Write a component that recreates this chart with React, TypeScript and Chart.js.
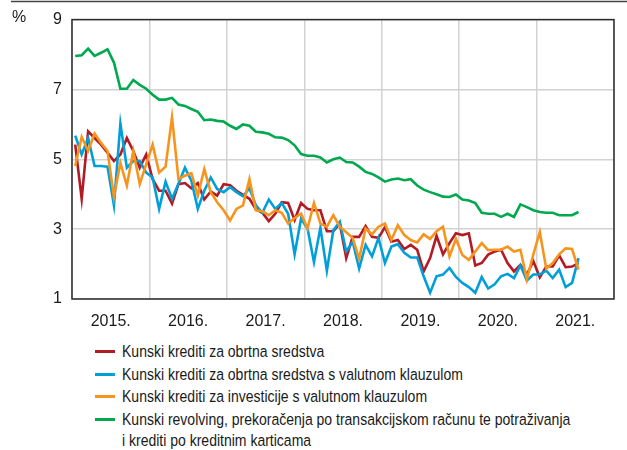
import React, { useEffect, useRef } from "react";
import { Chart, registerables } from "chart.js";

Chart.register(...registerables);

const yearLabels = ["2015.", "2016.", "2017.", "2018.", "2019.", "2020.", "2021."];
const yTicks = [1, 3, 5, 7, 9];

const seriesNames = [
  "Kunski krediti za obrtna sredstva",
  "Kunski krediti za obrtna sredstva s valutnom klauzulom",
  "Kunski krediti za investicije s valutnom klauzulom",
  "Kunski revolving, prekoračenja po transakcijskom računu te potraživanja\ni krediti po kreditnim karticama",
];
const seriesColors = ["#B31B24", "#009FDA", "#F7941E", "#00A94F"];

// Monthly values, Jan 2015 – Jul 2021
const redValues = [
  5.42, 3.87, 5.8, 5.61, 5.42, 5.19, 4.95, 5.14, 5.61, 5.24, 4.76, 5.14,
  4.43, 4.1, 4.1, 3.73, 4.29, 4.32, 4.17, 4.32, 3.85, 4.08, 3.96, 4.29,
  4.26, 4.1, 3.98, 3.87, 3.57, 3.47, 3.23, 3.44, 3.77, 3.75, 3.26, 3.75,
  3.58, 3.54, 3.54, 2.94, 2.94, 3.16, 2.17, 2.78, 2.78, 3.09, 2.78, 2.75,
  3.06, 2.64, 2.69, 2.43, 2.55, 2.41, 1.79, 2.17, 2.81, 2.28, 2.6, 2.88,
  2.83, 2.88, 1.96, 2.03, 2.27, 2.36, 2.41, 2.03, 1.79, 1.98, 1.7, 2.08,
  1.62, 1.93, 1.93, 2.25, 1.91, 1.93, 2.03,
];
const blueValues = [
  5.68, 5.14, 5.61, 4.81, 4.81, 4.79, 3.68, 6.02, 4.76, 4.95, 4.95, 4.62,
  4.48, 3.58, 4.36, 3.87, 4.3, 4.76, 4.39, 3.58, 4.1, 4.48, 4.15, 4.06,
  4.2, 4.06, 3.94, 4.17, 3.68, 3.47, 3.85, 3.58, 3.75, 3.44, 2.28, 3.3,
  3.02, 2.06, 3.04, 1.81, 2.97, 3.21, 2.36, 2.64, 1.87, 2.55, 2.22, 2.75,
  2.03, 2.5, 2.57, 2.32, 2.19, 2.19, 1.65, 1.18, 1.65, 1.7, 1.89, 1.63,
  1.46, 1.34, 1.18, 1.63, 1.3, 1.42, 1.65, 1.72, 1.6, 1.96, 1.53, 1.7,
  1.7, 1.81, 1.6, 1.84, 1.34, 1.46, 2.17,
];
const orangeValues = [
  4.81, 5.64, 5.24, 5.74, 5.47, 5.24, 3.92, 4.9, 4.25, 5.24, 4.29, 4.86,
  5.42, 4.62, 4.79, 6.2, 4.43, 4.53, 4.6, 3.96, 4.72, 4.06, 3.77, 3.54,
  3.25, 3.58, 3.68, 4.43, 3.54, 3.51, 3.4, 3.54, 3.47, 3.16, 3.32, 3.44,
  3.02, 3.75, 3.16, 3.07, 3.4, 3.07, 2.91, 2.75, 2.15, 3.02, 2.85, 3.07,
  3.16, 2.69, 3.11, 2.83, 2.69, 2.62, 2.85, 2.72, 2.94, 3.07, 2.22, 2.72,
  2.26, 2.12, 2.36, 2.6, 2.4, 2.41, 2.41, 2.5, 2.36, 2.41, 1.56, 2.28,
  2.92, 1.87, 2.03, 2.28, 2.45, 2.43, 1.84,
];
const greenValues = [
  7.96, 7.98, 8.17, 7.96, 8.05, 8.15, 7.77, 7.02, 7.02, 7.27, 7.13, 7.02,
  6.85, 6.71, 6.71, 6.76, 6.57, 6.53, 6.44, 6.36, 6.12, 6.14, 6.1, 6.08,
  5.96, 5.87, 6.0, 5.96, 5.79, 5.77, 5.73, 5.63, 5.62, 5.55, 5.4, 5.15,
  5.1, 5.1, 5.05, 4.91, 5.0, 5.05, 4.92, 4.91, 4.79, 4.64, 4.58, 4.48,
  4.36, 4.42, 4.45, 4.4, 4.43, 4.25, 4.13, 4.06, 4.0, 3.93, 3.92, 3.99,
  3.85, 3.82, 3.75, 3.47, 3.44, 3.44, 3.35, 3.44, 3.35, 3.71, 3.63, 3.54,
  3.49, 3.47, 3.47, 3.4, 3.4, 3.4, 3.49,
];

const allValues = [redValues, blueValues, orangeValues, greenValues];

const FONT = "'Liberation Sans', Arial, sans-serif";
const TEXT = "#1a1a1a";

const framePlugin = {
  id: "frame",
  afterDraw(chart: any) {
    const { ctx, chartArea } = chart;
    ctx.save();
    ctx.strokeStyle = "#2b2b2b";
    ctx.lineWidth = 1.5;
    ctx.strokeRect(chartArea.left, chartArea.top, chartArea.right - chartArea.left, chartArea.bottom - chartArea.top);
    ctx.strokeStyle = "#444";
    ctx.lineWidth = 1.5;
    ctx.beginPath();
    ctx.moveTo(11, 1.5);
    ctx.lineTo(627, 1.5);
    ctx.stroke();
    ctx.fillStyle = TEXT;
    ctx.font = `16px ${FONT}`;
    ctx.textBaseline = "middle";
    ctx.textAlign = "left";
    ctx.fillText("%", 12, 18);
    ctx.restore();
  },
};

export default function App() {
  const ref = useRef<HTMLCanvasElement | null>(null);

  useEffect(() => {
    if (!ref.current) return;
    const datasets = allValues.map((vals, k) => ({
      label: seriesNames[k],
      data: vals.map((v, i) => ({ x: i + 0.5, y: v })),
      borderColor: seriesColors[k],
      backgroundColor: seriesColors[k],
      borderWidth: 2.6,
      pointRadius: 0,
      tension: 0,
      fill: false,
      order: k === 3 ? 0 : 3 - k,
    }));
    const chart = new Chart(ref.current, {
      type: "line",
      data: { datasets },
      plugins: [framePlugin],
      options: {
        animation: false,
        responsive: false,
        maintainAspectRatio: false,
        layout: { padding: { top: 16, right: 3, left: 0, bottom: 0 } },
        plugins: { legend: { display: false }, tooltip: { enabled: false } },
        scales: {
          x: {
            type: "linear",
            min: 0,
            max: yearLabels.length * 12,
            afterBuildTicks: (scale: any) => {
              const t: any[] = [];
              for (let v = 0; v <= yearLabels.length * 12; v += 6) t.push({ value: v });
              scale.ticks = t;
            },
            afterFit: (scale: any) => {
              scale.height = 31;
            },
            grid: {
              drawTicks: false,
              color: (c: any) => (c.tick && c.tick.value % 12 === 0 ? "#d2d2d2" : "rgba(0,0,0,0)"),
              lineWidth: 1.5,
            },
            border: { display: false },
            ticks: {
              autoSkip: false,
              maxRotation: 0,
              padding: 13,
              color: TEXT,
              font: { family: FONT, size: 16 },
              callback: (v: any) => {
                const n = Number(v);
                if (n % 12 === 6) return yearLabels[(n - 6) / 12];
                return "";
              },
            },
          },
          y: {
            min: yTicks[0],
            max: yTicks[yTicks.length - 1],
            afterBuildTicks: (scale: any) => {
              scale.ticks = yTicks.map((v) => ({ value: v }));
            },
            afterFit: (scale: any) => {
              scale.width = 72;
            },
            grid: { drawTicks: false, color: "#d2d2d2", lineWidth: 1.5 },
            border: { display: false },
            ticks: {
              padding: 10,
              color: TEXT,
              font: { family: FONT, size: 16 },
            },
          },
        },
      },
    });
    return () => chart.destroy();
  }, []);

  const legendItems = seriesNames.map((n, k) => (
    <div key={k} style={{ position: "relative", marginBottom: 1.5 }}>
      <span
        style={{
          position: "absolute",
          left: 95,
          top: 9,
          width: 20,
          height: 3,
          background: seriesColors[k],
        }}
      />
      <div style={{ marginLeft: 122, transform: "scaleX(0.86)", transformOrigin: "0 0" }}>
        {n.split("\n").map((line, j) => (
          <div key={j}>{line}</div>
        ))}
      </div>
    </div>
  ));

  return (
    <div style={{ position: "absolute", left: 0, top: 0, width: 627, height: 450, background: "#fff" }}>
      <canvas ref={ref} width={627} height={330} style={{ display: "block", width: 627, height: 330 }} />
      <div
        style={{
          position: "absolute",
          left: 0,
          top: 341,
          fontFamily: FONT,
          fontSize: 16.3,
          lineHeight: "21px",
          color: TEXT,
          whiteSpace: "nowrap",
        }}
      >
        {legendItems}
      </div>
    </div>
  );
}
